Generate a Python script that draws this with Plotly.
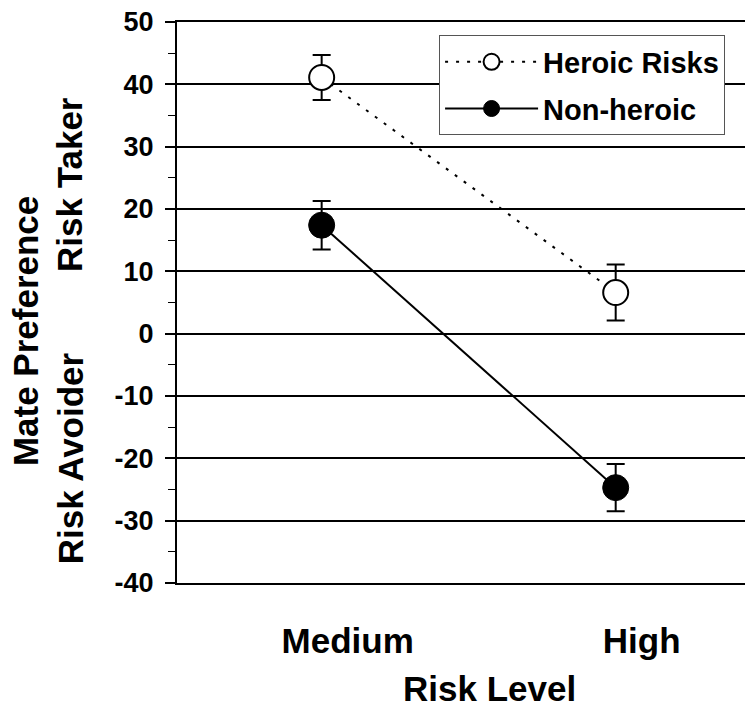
import plotly.graph_objects as go

categories = ["Medium", "High"]
heroic = [41.1, 6.6]
heroic_err = [3.6, 4.5]
nonheroic = [17.4, -24.7]
nonheroic_err = [3.9, 3.8]
y_ticks = [-40, -30, -20, -10, 0, 10, 20, 30, 40, 50]
y_tick_labels = ["-40", "-30", "-20", "-10", "0", "10", "20", "30", "40", "50"]
y_minor_ticks = [-35, -25, -15, -5, 5, 15, 25, 35, 45]
series_names = ["Heroic Risks", "Non-heroic"]

FONT = "Liberation Sans, Arial, sans-serif"

fig = go.Figure()
fig.add_trace(go.Scatter(
    x=categories, y=heroic, name=series_names[0], mode="lines+markers",
    legendgroup="g1",
    line=dict(color="black", width=2, dash="3px,8px"),
    marker=dict(symbol="circle", size=25, color="white", line=dict(color="black", width=2)),
    error_y=dict(type="data", array=heroic_err, visible=True, color="black", thickness=2, width=9),
))
fig.add_trace(go.Scatter(
    x=categories, y=nonheroic, name=series_names[1], mode="lines+markers",
    legendgroup="g2",
    line=dict(color="black", width=2),
    marker=dict(symbol="circle", size=26, color="black", line=dict(color="black", width=1)),
    error_y=dict(type="data", array=nonheroic_err, visible=True, color="black", thickness=2, width=9),
))

fig.update_layout(
    width=745, height=695,
    margin=dict(l=169, r=0, t=14, b=120, pad=0),
    paper_bgcolor="white", plot_bgcolor="white",
    font=dict(family=FONT, color="black", weight="bold"),
    showlegend=True,
    legend=dict(
        x=0.455, y=0.976, xanchor="left", yanchor="top",
        bgcolor="white", bordercolor="#555555", borderwidth=1,
        font=dict(family=FONT, size=29, color="black", weight="bold"),
        itemwidth=93, tracegroupgap=6,
    ),
    xaxis=dict(
        type="category", range=[-0.492, 1.467],
        showgrid=False, zeroline=False,
        showline=True, linecolor="black", linewidth=2, mirror=True,
        ticks="", tickfont=dict(family=FONT, size=35, weight="bold"),
        ticklabelshift=26, ticklabelstandoff=26,
    ),
    yaxis=dict(
        range=[-40, 50], tickvals=y_ticks, ticktext=y_tick_labels,
        showgrid=True, gridcolor="black", gridwidth=2,
        zeroline=False,
        showline=True, linecolor="black", linewidth=2,
        ticks="outside", ticklen=10, tickwidth=2, tickcolor="black",
        tickfont=dict(family=FONT, size=27, weight="bold"),
        ticklabelstandoff=6, ticklabeloverflow="allow",
        minor=dict(tickvals=y_minor_ticks, ticks="outside",
                   ticklen=7, tickwidth=1, tickcolor="black", showgrid=False),
    ),
    yaxis2=dict(
        range=[-40, 50], overlaying="y", anchor="x", side="left",
        tickvals=y_minor_ticks,
        ticks="inside", ticklen=6, tickwidth=1, tickcolor="black",
        showticklabels=False, showgrid=False, zeroline=False, showline=False,
    ),
)

title_font = dict(family=FONT, size=35, color="black", weight="bold")
fig.add_annotation(text="Mate Preference", xref="paper", yref="paper", x=0, xshift=-152,
                   y=0.449, textangle=-90, showarrow=False, font=title_font,
                   xanchor="center", yanchor="middle")
fig.add_annotation(text="Risk Taker", xref="paper", yref="paper", x=0, xshift=-107,
                   y=0.7095, textangle=-90, showarrow=False, font=title_font,
                   xanchor="center", yanchor="middle")
fig.add_annotation(text="Risk Avoider", xref="paper", yref="paper", x=0, xshift=-107,
                   y=0.2225, textangle=-90, showarrow=False, font=title_font,
                   xanchor="center", yanchor="middle")
fig.add_annotation(text="Risk Level", xref="paper", yref="paper", x=0.543,
                   y=-0.188, showarrow=False, font=title_font,
                   xanchor="center", yanchor="middle")

fig.write_html("out.html")
